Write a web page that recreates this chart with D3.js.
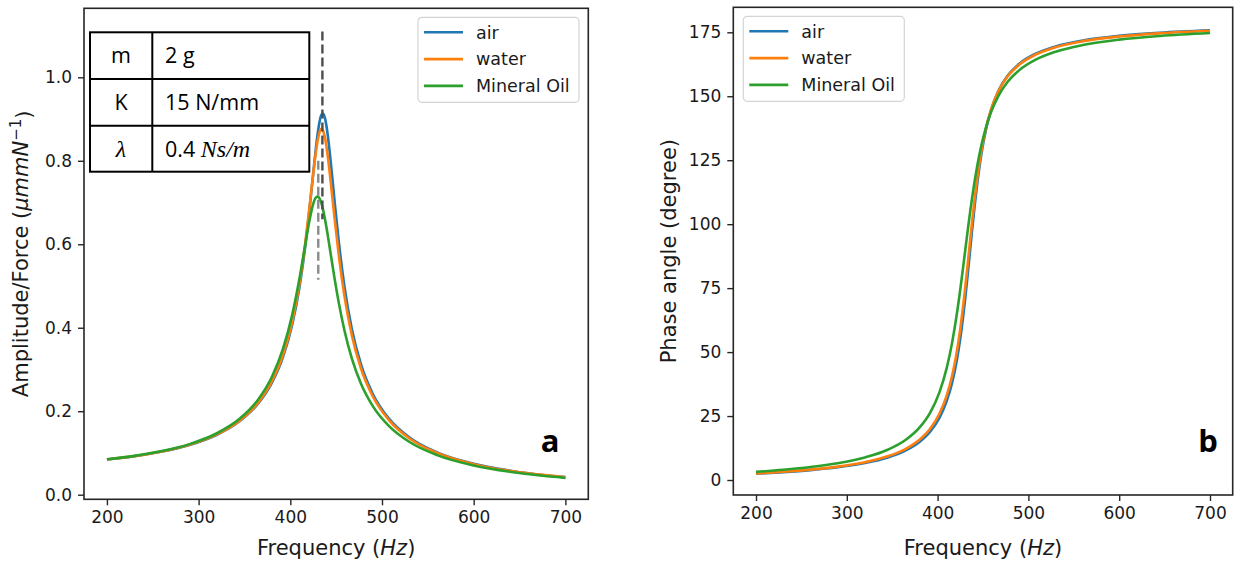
<!DOCTYPE html>
<html>
<head>
<meta charset="utf-8">
<script src="https://cdn.jsdelivr.net/npm/d3@7"></script>
<style>
  body { margin: 0; background: #fff; }
  svg { display: block; }
</style>
</head>
<body>
<div id="chart"></div>
<script>
// frequency samples (Hz)
const freq = [200, 230, 260, 290, 320, 345, 365, 380, 392, 402, 410, 416, 421, 425, 428, 430, 432, 434, 436, 438, 441, 444, 448, 453, 459, 467, 477, 490, 508, 530, 560, 600, 645, 700];

// panel a: amplitude / force
const ampAir = [0.0844, 0.0923, 0.1033, 0.1192, 0.1437, 0.1764, 0.2186, 0.2686, 0.3299, 0.4069, 0.4972, 0.5895, 0.6851, 0.7701, 0.8320, 0.8675, 0.8949, 0.9105, 0.9125, 0.9004, 0.8591, 0.7994, 0.7098, 0.6038, 0.4998, 0.3983, 0.3127, 0.2413, 0.1810, 0.1370, 0.1014, 0.0740, 0.0558, 0.0421];
const ampWater = [0.0845, 0.0924, 0.1035, 0.1196, 0.1444, 0.1777, 0.2207, 0.2718, 0.3345, 0.4134, 0.5052, 0.5975, 0.6904, 0.7691, 0.8223, 0.8504, 0.8691, 0.8764, 0.8709, 0.8535, 0.8089, 0.7509, 0.6678, 0.5714, 0.4765, 0.3829, 0.3029, 0.2352, 0.1774, 0.1347, 0.1001, 0.0732, 0.0553, 0.0418];
const ampOil = [0.0849, 0.0931, 0.1045, 0.1212, 0.1472, 0.1824, 0.2282, 0.2827, 0.3492, 0.4302, 0.5179, 0.5953, 0.6583, 0.6969, 0.7123, 0.7143, 0.7093, 0.6977, 0.6802, 0.6581, 0.6194, 0.5774, 0.5219, 0.4584, 0.3942, 0.3273, 0.2666, 0.2123, 0.1636, 0.1262, 0.0949, 0.0701, 0.0532, 0.0404];

// panel b: phase angle (degree)
const phaseAir = [2.43, 3.06, 3.87, 4.98, 6.63, 8.80, 11.57, 14.86, 18.97, 24.27, 30.82, 38.05, 46.46, 55.35, 63.51, 69.65, 76.30, 83.31, 90.49, 97.63, 107.79, 116.86, 126.95, 136.57, 144.79, 152.13, 157.99, 162.72, 166.64, 169.49, 171.80, 173.59, 174.81, 175.75];
const phaseWater = [2.54, 3.20, 4.05, 5.23, 6.97, 9.26, 12.21, 15.74, 20.15, 25.88, 32.96, 40.76, 49.77, 59.14, 67.57, 73.81, 80.44, 87.31, 94.22, 100.98, 110.47, 118.88, 128.21, 137.17, 144.94, 151.99, 157.71, 162.38, 166.31, 169.19, 171.54, 173.38, 174.63, 175.60];
const phaseOil = [3.17, 4.00, 5.08, 6.57, 8.82, 11.82, 15.73, 20.47, 26.46, 34.26, 43.72, 53.70, 64.43, 74.57, 82.85, 88.53, 94.22, 99.79, 105.17, 110.26, 117.25, 123.44, 130.45, 137.47, 143.92, 150.17, 155.55, 160.21, 164.31, 167.43, 170.04, 172.13, 173.58, 174.72];

const seriesNames = ["air", "water", "Mineral Oil"];
const xTicks = [200, 300, 400, 500, 600, 700];
const ampTicks = [0.0, 0.2, 0.4, 0.6, 0.8, 1.0];
const phaseTicks = [0, 25, 50, 75, 100, 125, 150, 175];

// resonance markers on panel a
const peakFreq = [435, 430.5];
const peakLow = [0.66, 0.515];
const peakHigh = [1.11, 0.80];

// parameter table on panel a
const tableKeys = ["m", "K", "λ"];
const tableValues = ["2 g", "15 N/mm", "0.4 Ns/m"];

const colors = ["#1f77b4", "#ff7f0e", "#2ca02c"];
const FONT = "DejaVu Sans";

var svg = d3.select("#chart")
  .append("svg")
  .attr("width", 1236)
  .attr("height", 561)
  .style("background", "#fff");

function drawPanel(opt) {
  var x = d3.scaleLinear().domain([175, 725]).range([opt.left, opt.right]);
  var y = d3.scaleLinear().domain(opt.yDomain).range([opt.bottom, opt.top]);
  var g = svg.append("g");

  // lines
  var line = d3.line()
    .x(function (d, i) { return x(freq[i]); })
    .y(function (d) { return y(d); })
    .curve(d3.curveMonotoneX);

  opt.series.forEach(function (s, i) {
    g.append("path")
      .attr("d", line(s))
      .attr("fill", "none")
      .attr("stroke", colors[i])
      .attr("stroke-width", 2.6);
  });

  if (opt.extra) opt.extra(g, x, y);

  // frame
  g.append("rect")
    .attr("x", opt.left)
    .attr("y", opt.top)
    .attr("width", opt.right - opt.left)
    .attr("height", opt.bottom - opt.top)
    .attr("fill", "none")
    .attr("stroke", "#262626")
    .attr("stroke-width", 1.6);

  // axes
  var xa = g.append("g")
    .attr("transform", "translate(0," + opt.bottom + ")")
    .call(d3.axisBottom(x).tickValues(xTicks).tickSize(6).tickPadding(6).tickSizeOuter(0));
  var ya = g.append("g")
    .attr("transform", "translate(" + opt.left + ",0)")
    .call(d3.axisLeft(y).tickValues(opt.yTicks).tickFormat(opt.fmt).tickSize(6).tickPadding(6).tickSizeOuter(0));
  [xa, ya].forEach(function (a) {
    a.select(".domain").remove();
    a.selectAll("line").attr("stroke", "#262626").attr("stroke-width", 1.4);
    a.selectAll("text").attr("fill", "#1a1a1a").style("font-family", FONT).style("font-size", "17px");
  });

  // x label
  var xl = g.append("text")
    .attr("x", (opt.left + opt.right) / 2)
    .attr("y", 555)
    .attr("text-anchor", "middle")
    .style("font-family", FONT)
    .style("font-size", "21px")
    .attr("fill", "#1a1a1a");
  xl.append("tspan").text("Frequency (");
  xl.append("tspan").style("font-style", "italic").text("Hz");
  xl.append("tspan").text(")");

  // y label
  var yl = g.append("text")
    .attr("transform", "translate(" + opt.yLabelX + "," + (opt.top + opt.bottom) / 2 + ") rotate(-90)")
    .attr("text-anchor", "middle")
    .style("font-family", FONT)
    .style("font-size", "21px")
    .attr("fill", "#1a1a1a");
  opt.yLabel(yl);

  // legend
  var lg = g.append("g").attr("transform", "translate(" + opt.legendX + "," + (opt.top + 9) + ")");
  lg.append("rect")
    .attr("width", 161)
    .attr("height", 85)
    .attr("rx", 4)
    .attr("fill", "#fff")
    .attr("fill-opacity", 0.85)
    .attr("stroke", "#d4d4d4")
    .attr("stroke-width", 1.2);
  var item = lg.selectAll(".item")
    .data(seriesNames)
    .enter()
    .append("g")
    .attr("transform", function (d, i) { return "translate(0," + (15 + i * 26.8) + ")"; });
  item.append("line")
    .attr("x1", 6).attr("x2", 45)
    .attr("stroke", function (d, i) { return colors[i]; })
    .attr("stroke-width", 2.6);
  item.append("text")
    .attr("x", 58)
    .attr("dy", "0.36em")
    .style("font-family", FONT)
    .style("font-size", "17.5px")
    .attr("fill", "#1a1a1a")
    .text(function (d) { return d; });

  // panel letter
  g.append("text")
    .attr("x", opt.letterX)
    .attr("y", 452)
    .attr("text-anchor", "middle")
    .style("font-family", "Open Sans")
    .style("font-weight", "bold")
    .style("font-size", "31px")
    .attr("fill", "#000")
    .text(opt.letter);
}

// panel a
drawPanel({
  left: 84, right: 588.3, top: 8.3, bottom: 499.3,
  yDomain: [-0.011, 1.1653],
  yTicks: ampTicks,
  fmt: d3.format(".1f"),
  series: [ampAir, ampWater, ampOil],
  legendX: 418,
  letter: "a",
  letterX: 550,
  yLabelX: 28,
  yLabel: function (t) {
    t.append("tspan").text("Amplitude/Force (");
    t.append("tspan").style("font-style", "italic").text("μmmN");
    t.append("tspan").attr("dy", "-0.45em").style("font-size", "15px").text("−1");
    t.append("tspan").attr("dy", "0.45em").text(")");
  },
  extra: function (g, x, y) {
    // dashed resonance lines
    g.selectAll(".peak")
      .data(peakFreq)
      .enter()
      .append("line")
      .attr("x1", function (d) { return x(d); })
      .attr("x2", function (d) { return x(d); })
      .attr("y1", function (d, i) { return y(peakHigh[i]); })
      .attr("y2", function (d, i) { return y(peakLow[i]); })
      .attr("stroke", function (d, i) { return i == 0 ? "#4d4d4d" : "#8a8a8a"; })
      .attr("stroke-width", 2.4)
      .attr("stroke-dasharray", "9,4");

    // parameter table
    var t = g.append("g");
    var rowY = [32.3, 79, 125.7, 171.7];
    t.append("rect")
      .attr("x", 90).attr("y", rowY[0])
      .attr("width", 219.3).attr("height", rowY[3] - rowY[0])
      .attr("fill", "#fff")
      .attr("stroke", "#000").attr("stroke-width", 2);
    t.append("line").attr("x1", 152.3).attr("x2", 152.3).attr("y1", rowY[0]).attr("y2", rowY[3])
      .attr("stroke", "#000").attr("stroke-width", 2);
    [rowY[1], rowY[2]].forEach(function (yy) {
      t.append("line").attr("x1", 90).attr("x2", 309.3).attr("y1", yy).attr("y2", yy)
        .attr("stroke", "#000").attr("stroke-width", 2);
    });
    tableKeys.forEach(function (k, i) {
      var base = rowY[i] + 31;
      t.append("text")
        .attr("x", 121).attr("y", base)
        .attr("text-anchor", "middle")
        .style("font-family", k == "λ" ? "Liberation Serif" : "Open Sans")
        .style("font-style", k == "λ" ? "italic" : "normal")
        .style("font-size", k == "λ" ? "24px" : "21.5px")
        .attr("fill", "#000")
        .text(k);
      var v = t.append("text")
        .attr("x", 165).attr("y", base)
        .style("font-family", "Open Sans")
        .style("font-size", "21.5px")
        .attr("fill", "#000");
      var val = tableValues[i];
      if (val.indexOf("Ns/m") >= 0) {
        v.append("tspan").text(val.replace("Ns/m", ""));
        v.append("tspan")
          .style("font-family", "Liberation Serif")
          .style("font-style", "italic")
          .style("font-size", "24px")
          .text("Ns/m");
      } else {
        v.text(val);
      }
    });
  }
});

// panel b
drawPanel({
  left: 733.3, right: 1232.7, top: 7.3, bottom: 495,
  yDomain: [-5.86, 184.77],
  yTicks: phaseTicks,
  fmt: d3.format("d"),
  series: [phaseAir, phaseWater, phaseOil],
  legendX: 743.3,
  letter: "b",
  letterX: 1208,
  yLabelX: 676,
  yLabel: function (t) {
    t.text("Phase angle (degree)");
  }
});
</script>
</body>
</html>
